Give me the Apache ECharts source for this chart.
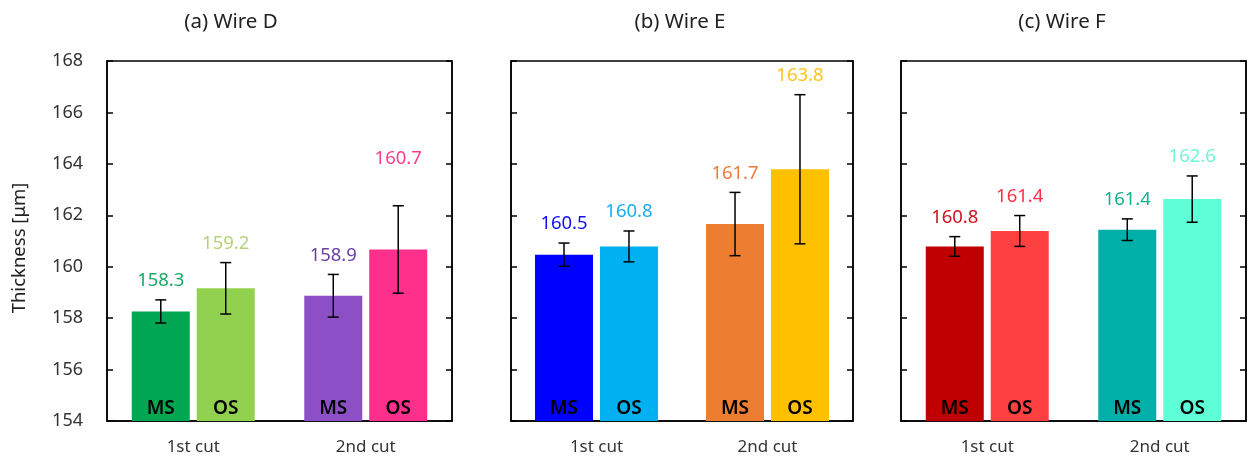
<!DOCTYPE html>
<html>
<head>
<meta charset="utf-8">
<script src="https://cdn.jsdelivr.net/npm/echarts@6/dist/echarts.min.js"></script>
<style>
html,body{margin:0;padding:0;background:#fff;}
#chart{width:1248px;height:460px;}
</style>
</head>
<body>
<div id="chart"></div>
<script>
// ---------- data ----------
const categories = ['1st cut', '2nd cut'];
const panelTitles = ['(a) Wire D', '(b) Wire E', '(c) Wire F'];
const groupNames = ['MS', 'OS'];
const yAxisName = 'Thickness [μm]';
const yMin = 154, yMax = 168, yStep = 2;

const wireD_MS = [158.26, 158.87];
const wireD_OS = [159.16, 160.67];
const wireD_MS_err = [0.45, 0.83];
const wireD_OS_err = [1.0, 1.7];

const wireE_MS = [160.47, 161.66];
const wireE_OS = [160.79, 163.79];
const wireE_MS_err = [0.45, 1.23];
const wireE_OS_err = [0.6, 2.9];

const wireF_MS = [160.79, 161.44];
const wireF_OS = [161.39, 162.63];
const wireF_MS_err = [0.38, 0.42];
const wireF_OS_err = [0.6, 0.9];

// ---------- styles ----------
const barColors = [
  [['#00a651', '#8c4fc6'], ['#92d050', '#ff2f8c']],
  [['#0000ff', '#ed7d31'], ['#00b0f0', '#ffc000']],
  [['#c00000', '#00b0a8'], ['#ff4040', '#5effd6']]
];
const labelColors = [
  [['#1aa865', '#6a3fa6'], ['#b4d27e', '#ff3d8d']],
  [['#1010f0', '#f07a3c'], ['#18aef0', '#ffc418']],
  [['#d0101e', '#12b48e'], ['#ff3044', '#70f4d6']]
];
const FONT = '"Noto Sans", "Open Sans", sans-serif';
const BAR_W = 58, GAP_RATIO = 0.12;
const grids = [
  {left: 107, top: 61, width: 345, height: 360},
  {left: 511, top: 61, width: 342, height: 360},
  {left: 901, top: 61, width: 345, height: 360}
];
const titleCenters = [231, 680, 1062];
// extra lift of a value label (panel-group-category) for spacing
const extraLift = {'0-1-1': 28};

const panels = [
  {ms: wireD_MS, os: wireD_OS, msErr: wireD_MS_err, osErr: wireD_OS_err},
  {ms: wireE_MS, os: wireE_OS, msErr: wireE_MS_err, osErr: wireE_OS_err},
  {ms: wireF_MS, os: wireF_OS, msErr: wireF_MS_err, osErr: wireF_OS_err}
];

const option = {
  animation: false,
  backgroundColor: '#fff',
  grid: [], xAxis: [], yAxis: [], series: [],
  graphic: []
};

panels.forEach((p, i) => {
  option.grid.push(Object.assign({show: true, borderColor: '#000', borderWidth: 1.5, containLabel: false}, grids[i]));
  option.xAxis.push({
    type: 'category', gridIndex: i, data: categories,
    axisLine: {show: true, lineStyle: {color: '#000', width: 1.5}},
    axisTick: {show: false},
    axisLabel: {fontSize: 17, color: '#333', fontFamily: FONT, margin: 18}
  });
  option.yAxis.push({
    type: 'value', gridIndex: i, min: yMin, max: yMax, interval: yStep,
    position: 'left',
    axisLine: {show: true, lineStyle: {color: '#000', width: 1.5}},
    axisTick: {show: true, inside: true, length: 6, lineStyle: {color: '#000', width: 1.5}},
    splitLine: {show: false},
    axisLabel: {show: i === 0, fontSize: 18, color: '#333', fontFamily: FONT, margin: 24}
  });
  option.yAxis.push({
    type: 'value', gridIndex: i, min: yMin, max: yMax, interval: yStep,
    position: 'right',
    axisLine: {show: true, lineStyle: {color: '#000', width: 1.5}},
    axisTick: {show: true, inside: true, length: 6, lineStyle: {color: '#000', width: 1.5}},
    splitLine: {show: false},
    axisLabel: {show: false}
  });
  const groups = [[p.ms, p.msErr], [p.os, p.osErr]];
  groups.forEach((g, gi) => {
    option.series.push({
      type: 'bar', name: groupNames[gi], xAxisIndex: i, yAxisIndex: 2 * i,
      barWidth: BAR_W, barGap: (GAP_RATIO * 100) + '%',
      data: g[0].map((v, ci) => ({value: v, itemStyle: {color: barColors[i][gi][ci]}})),
      label: {show: true, position: 'insideBottom', distance: 3, formatter: groupNames[gi],
              color: '#000', fontSize: 19, fontWeight: 600, fontFamily: FONT}
    });
  });
  // error bars + value labels
  const errData = [];
  groups.forEach((g, gi) => {
    g[0].forEach((v, ci) => errData.push([ci, gi, v, g[1][ci]]));
  });
  option.series.push({
    type: 'custom', xAxisIndex: i, yAxisIndex: 2 * i, z: 10,
    encode: {x: 0, y: 2},
    data: errData,
    renderItem: (params, api) => {
      const ci = api.value(0), gi = api.value(1), mean = api.value(2), err = api.value(3);
      const off = (gi === 0 ? -1 : 1) * (BAR_W + BAR_W * GAP_RATIO) / 2;
      const top = api.coord([ci, mean + err]);
      const bot = api.coord([ci, mean - err]);
      const x = top[0] + off;
      const cap = 5.5;
      const ls = {stroke: '#000', lineWidth: 1.5};
      const lift = 19 + (extraLift[i + '-' + gi + '-' + ci] || 0);
      return {
        type: 'group',
        children: [
          {type: 'line', shape: {x1: x, y1: top[1], x2: x, y2: bot[1]}, style: ls},
          {type: 'line', shape: {x1: x - cap, y1: top[1], x2: x + cap, y2: top[1]}, style: ls},
          {type: 'line', shape: {x1: x - cap, y1: bot[1], x2: x + cap, y2: bot[1]}, style: ls},
          {type: 'text', style: {text: mean.toFixed(1), x: x, y: top[1] - lift,
            textAlign: 'center', textVerticalAlign: 'middle',
            fill: labelColors[i][gi][ci], font: '18.5px ' + FONT}}
        ]
      };
    }
  });
  option.graphic.push({
    type: 'text', x: titleCenters[i], y: 22,
    style: {text: panelTitles[i], fill: '#222', font: '20.5px ' + FONT,
            textAlign: 'center', textVerticalAlign: 'middle'}
  });
});

option.graphic.push({
  type: 'text', x: 20, y: 248, rotation: Math.PI / 2,
  style: {text: yAxisName, fill: '#222', font: '18.5px ' + FONT, textAlign: 'center', textVerticalAlign: 'middle'}
});

const chart = echarts.init(document.getElementById('chart'));
chart.setOption(option);
</script>
</body>
</html>
